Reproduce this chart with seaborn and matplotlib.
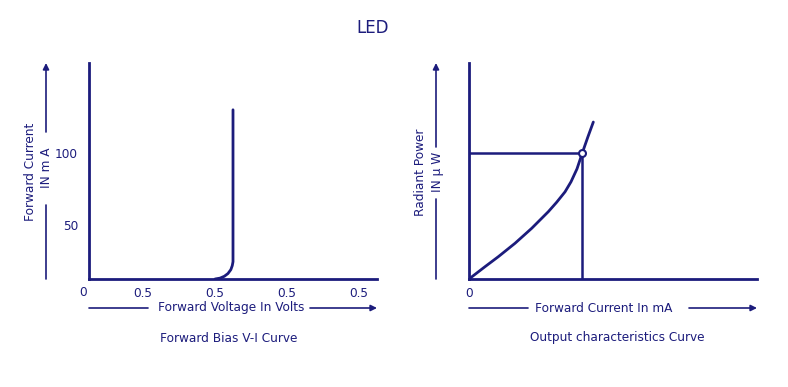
import matplotlib
matplotlib.use("Agg")
import matplotlib.pyplot as plt
import seaborn as sns
import pandas as pd

# Left panel: forward bias V-I curve (x in tick units, y in mA)
vi_voltage = [1.75, 1.82, 1.88, 1.93, 1.97, 1.99, 2.0, 2.0, 2.0]
vi_current = [12.5, 13.1, 14.4, 16.3, 19.0, 21.8, 24.5, 60.0, 130.0]
vi_xticks = [0.75, 1.75, 2.75, 3.75]
vi_xticklabels = ["0.5", "0.5", "0.5", "0.5"]
vi_yticks = [50, 100]
vi_yticklabels = ["50", "100"]

# Right panel: output characteristics (radiant power vs forward current)
oc_current = [0.0, 0.267, 0.489, 0.767, 1.045, 1.322, 1.46, 1.60, 1.70, 1.80, 1.888, 1.98, 2.072]
oc_power = [0.0, 0.171, 0.310, 0.496, 0.704, 0.935, 1.065, 1.21, 1.35, 1.53, 1.75, 1.97, 2.18]
oc_point = (1.888, 1.75)
oc_xticks = [0.0, 0.9, 1.888, 2.88, 3.88]
oc_xticklabels = ["0", "", "", "", ""]
oc_yticks = [0.75, 1.75]

NAVY = "#1c1c7c"
W, H = 788, 387
FS = 8.7

sns.set_style("white")
plt.rcParams["font.family"] = ["DejaVu Sans"]
plt.rcParams["text.color"] = NAVY
plt.rcParams["xtick.color"] = NAVY
plt.rcParams["ytick.color"] = NAVY

fig = plt.figure(figsize=(W / 100, H / 100), dpi=100)


def fx(px):
    return px / W


def fy(py):
    return 1 - py / H


def make_axes(left, right, top, bottom):
    ax = fig.add_axes([fx(left), fy(bottom), fx(right) - fx(left), fy(top) - fy(bottom)])
    ax.set_facecolor("white")
    for s in ["top", "right"]:
        ax.spines[s].set_visible(False)
    for s in ["left", "bottom"]:
        ax.spines[s].set_color(NAVY)
        ax.spines[s].set_linewidth(2)
    ax.tick_params(axis="x", direction="inout", length=9, width=1.3, labelsize=FS, pad=1)
    ax.tick_params(axis="y", direction="out", length=5, width=1.3, labelsize=FS, pad=3)
    return ax


def line(x0, y0, x1, y1):
    fig.add_artist(matplotlib.lines.Line2D([fx(x0), fx(x1)], [fy(y0), fy(y1)],
                                           transform=fig.transFigure, color=NAVY, lw=1.2))


def arrow(x0, y0, x1, y1):
    fig.add_artist(matplotlib.patches.FancyArrowPatch(
        (fx(x0), fy(y0)), (fx(x1), fy(y1)), transform=fig.transFigure,
        arrowstyle="-|>", mutation_scale=9, color=NAVY, lw=1.2, shrinkA=0, shrinkB=0))


def label(x, y, s, rot=0):
    fig.text(fx(x), fy(y), s, ha="center", va="center", rotation=rot, fontsize=FS, color=NAVY)


# ---- left panel ----
ax1 = make_axes(89, 377, 63, 279)
df1 = pd.DataFrame({"v": vi_voltage, "i": vi_current})
sns.lineplot(data=df1, x="v", y="i", ax=ax1, color=NAVY, linewidth=2,
             sort=False, estimator=None, errorbar=None)
ax1.set_xlim(0, 4)
ax1.set_ylim(12.5, 162.5)
ax1.set_xticks(vi_xticks)
ax1.set_xticklabels(vi_xticklabels)
ax1.set_yticks(vi_yticks)
ax1.set_yticklabels(vi_yticklabels)
ax1.set_xlabel("")
ax1.set_ylabel("")
label(83, 292, "0")

line(46, 279, 46, 205)
arrow(46, 132, 46, 63)
line(89, 308, 148, 308)
arrow(310, 308, 377, 308)
label(31, 172, "Forward Current", rot=90)
label(47, 168, "IN m A", rot=90)
label(231, 308, "Forward Voltage In Volts")
label(229, 338, "Forward Bias V-I Curve")

# ---- right panel ----
ax2 = make_axes(469, 757, 63, 279)
df2 = pd.DataFrame({"i": oc_current, "p": oc_power})
sns.lineplot(data=df2, x="i", y="p", ax=ax2, color=NAVY, linewidth=2,
             estimator=None, errorbar=None)
ax2.plot([0, oc_point[0]], [oc_point[1], oc_point[1]], color=NAVY, lw=1.8)
ax2.plot([oc_point[0], oc_point[0]], [0, oc_point[1]], color=NAVY, lw=1.8)
ax2.plot([oc_point[0]], [oc_point[1]], marker="o", ms=5, mfc="white", mec=NAVY, mew=1.5)
ax2.set_xlim(0, 4.8)
ax2.set_ylim(0, 3)
ax2.set_xticks(oc_xticks)
ax2.set_xticklabels(oc_xticklabels)
ax2.set_yticks(oc_yticks)
ax2.set_yticklabels([])
ax2.set_xlabel("")
ax2.set_ylabel("")

line(436, 279, 436, 199)
arrow(436, 147, 436, 63)
line(469, 308, 528, 308)
arrow(689, 308, 757, 308)
label(421, 172, "Radiant Power", rot=90)
label(437, 172, "IN \u00b5 W", rot=90)
label(604, 308, "Forward Current In mA")
label(617, 338, "Output characteristics Curve")

fig.text(fx(373), fy(28), "LED", ha="center", va="center", fontsize=12, color=NAVY)

fig.savefig("out.png", dpi=100, facecolor="white")
